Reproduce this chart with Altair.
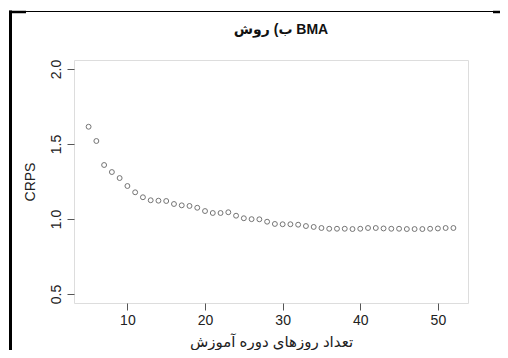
import altair as alt
import pandas as pd

days = list(range(5, 53))
crps = [1.615, 1.52, 1.36, 1.313, 1.273, 1.22, 1.178, 1.145, 1.125, 1.122,
        1.12, 1.10, 1.091, 1.087, 1.075, 1.053, 1.04, 1.04, 1.045, 1.022,
        1.005, 0.999, 0.998, 0.982, 0.967, 0.965, 0.965, 0.962, 0.953, 0.947,
        0.94, 0.935, 0.935, 0.935, 0.933, 0.935, 0.94, 0.94, 0.937, 0.935,
        0.935, 0.933, 0.933, 0.933, 0.935, 0.937, 0.94, 0.94]
x_ticks = [10, 20, 30, 40, 50]
y_ticks = [0.5, 1.0, 1.5, 2.0]

title_text = "ب) روش BMA"
x_title = "تعداد روزهاي دوره آموزش"
y_title = "CRPS"

df = pd.DataFrame({"days": days, "crps": crps})
FONT = "Liberation Sans, Arial, DejaVu Sans"

points = alt.Chart(df).mark_point(
    shape="circle", filled=False, size=24, strokeWidth=1, color="#3a3a3a"
).encode(
    x=alt.X("days:Q", scale=alt.Scale(domain=[3.12, 53.88], nice=False, zero=False),
            axis=alt.Axis(values=x_ticks, title=x_title, grid=False, domain=False,
                          tickSize=7, tickColor="#555", labelFontSize=14, labelFont=FONT,
                          labelColor="#222", labelPadding=3, titleFontSize=15,
                          titleFont=FONT, titleFontWeight="normal", titleColor="#222",
                          titlePadding=7)),
    y=alt.Y("crps:Q", scale=alt.Scale(domain=[0.44, 2.06], nice=False, zero=False),
            axis=alt.Axis(values=y_ticks, format=".1f", title=y_title, grid=False,
                          domain=False, tickSize=7, tickColor="#555", labelFontSize=14,
                          labelFont=FONT, labelColor="#222", labelAngle=270,
                          labelAlign="center", labelBaseline="bottom", labelPadding=4,
                          titleFontSize=14, titleFont=FONT, titleFontWeight="normal",
                          titleColor="#222", titlePadding=12)),
)

one = pd.DataFrame({"k": [0]})

# chart title, drawn as a text mark above the plot
title = alt.Chart(one).mark_text(
    text=title_text, font=FONT, fontSize=14, fontWeight="bold", color="#111",
    align="center", baseline="alphabetic"
).encode(x=alt.value(207), y=alt.value(-26))

# decorative partial frame seen in the reference image
frame = alt.layer(
    alt.Chart(one).mark_rule(color="black", strokeWidth=1).encode(
        x=alt.value(-65), x2=alt.value(434), y=alt.value(-48.5)),
    alt.Chart(one).mark_rule(color="black", strokeWidth=2.5).encode(
        x=alt.value(-65), x2=alt.value(-48), y=alt.value(-48)),
    alt.Chart(one).mark_rule(color="black", strokeWidth=2.5).encode(
        x=alt.value(419), x2=alt.value(434), y=alt.value(-48)),
    alt.Chart(one).mark_rule(color="black", strokeWidth=3).encode(
        x=alt.value(-63.5), y=alt.value(-49.5), y2=alt.value(300)),
)

chart = alt.layer(points, title, frame).properties(
    width=394, height=243,
    autosize=alt.AutoSizeParams(type="none"),
    padding={"left": 66, "top": 52, "right": 32, "bottom": 47},
).configure_view(stroke="#666", strokeWidth=1).configure(background="white")

chart.save("out.html", embed_options={"renderer": "svg", "actions": False})
